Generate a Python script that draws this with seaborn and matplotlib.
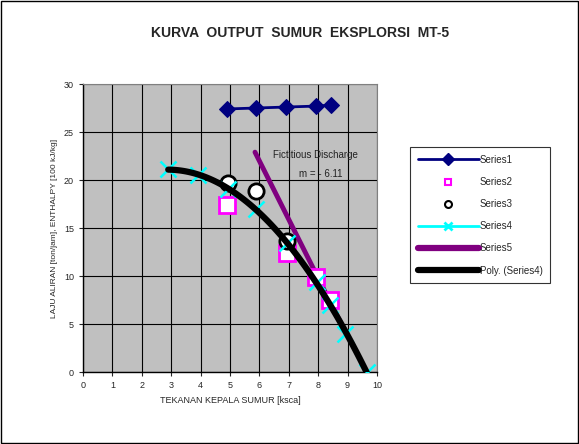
import numpy as np
import pandas as pd
import matplotlib
matplotlib.use("Agg")
import matplotlib.pyplot as plt
from matplotlib.lines import Line2D
import seaborn as sns

# data
s1_x = [4.9, 5.9, 6.9, 7.93, 8.45]
s1_y = [27.4, 27.5, 27.6, 27.7, 27.8]

s2_x = [4.9, 6.93, 7.91, 8.4]
s2_y = [17.4, 12.4, 9.9, 7.5]

s3_x = [4.92, 5.9, 6.93]
s3_y = [19.7, 18.9, 13.6]

s4_x = [2.9, 3.92, 4.94, 5.9, 6.93, 7.95, 8.4, 8.91, 9.67]
s4_y = [21.1, 20.5, 19.1, 17.0, 13.4, 9.4, 7.0, 4.0, 0.0]

s5_x = [5.85, 8.8]
s5_y = [22.9, 4.9]

sns.set_style("white")
plt.rcParams['font.family'] = ['Liberation Sans', 'DejaVu Sans']

fig = plt.figure(figsize=(5.79, 4.44), dpi=100)
ax = fig.add_axes([83 / 579, 1 - 372 / 444, 294 / 579, 288 / 444])
ax.set_facecolor('#C0C0C0')

# polynomial trend (order 2) of Series4
coef = np.polyfit(s4_x, s4_y, 2)
tx = np.linspace(min(s4_x), max(s4_x), 100)
trend = pd.DataFrame({'x': tx, 'y': np.polyval(coef, tx)})

sns.lineplot(x=s1_x, y=s1_y, ax=ax, color='#000080', lw=2, marker='D',
             markersize=8, markeredgecolor='#000080', zorder=3)
sns.lineplot(x=s5_x, y=s5_y, ax=ax, color='#800080', lw=3.5, zorder=3)
ax.plot(s2_x, s2_y, ls='none', marker='s', markersize=11, mfc='white',
        mec='#FF00FF', mew=2, zorder=4)
ax.plot(s3_x, s3_y, ls='none', marker='o', markersize=11, mfc='white',
        mec='black', mew=2, zorder=4)
ax.plot(s4_x, s4_y, ls='none', marker='x', markersize=12, mec='#00FFFF',
        mew=1.8, zorder=5)
sns.lineplot(data=trend, x='x', y='y', ax=ax, color='black', lw=4.5, zorder=6)

ax.text(7.9, 22.3, 'Fictitious Discharge', fontsize=7, ha='center', color='#222222')
ax.text(8.1, 20.3, 'm = - 6.11', fontsize=7, ha='center', color='#222222')

ax.set_xlim(0, 10)
ax.set_ylim(0, 30)
ax.set_xticks(range(0, 11))
ax.set_yticks(range(0, 31, 5))
ax.grid(True, color='black', lw=0.8)
ax.set_axisbelow(True)
ax.tick_params(labelsize=6.5, length=3, direction='out', left=True, bottom=True)
for side in ['top', 'right']:
    ax.spines[side].set_color('#808080')
for side in ['left', 'bottom']:
    ax.spines[side].set_color('black')
    ax.spines[side].set_linewidth(1)

ax.set_xlabel('TEKANAN KEPALA SUMUR [ksca]', fontsize=6.5)
ax.set_ylabel('LAJU ALIRAN [ton/jam], ENTHALPY [100 kJ/kg]', fontsize=6)

fig.suptitle('KURVA  OUTPUT  SUMUR  EKSPLORSI  MT-5', x=300 / 579, y=1 - 26 / 444,
             fontsize=10, fontweight='bold')

handles = [
    Line2D([], [], color='#000080', lw=2, marker='D', markersize=6),
    Line2D([], [], ls='none', marker='s', markersize=5, mfc='white', mec='#FF00FF', mew=1.5),
    Line2D([], [], ls='none', marker='o', markersize=5, mfc='white', mec='black', mew=1.5),
    Line2D([], [], color='#00FFFF', lw=2, marker='x', markersize=6, mew=2),
    Line2D([], [], color='#800080', lw=4.5),
    Line2D([], [], color='black', lw=4.5),
]
labels = ['Series1', 'Series2', 'Series3', 'Series4', 'Series5', 'Poly. (Series4)']
leg = fig.legend(handles, labels, loc='upper left', bbox_to_anchor=(410 / 579, 1 - 147 / 444),
                 fontsize=7, frameon=True, fancybox=False, handlelength=6.3,
                 handletextpad=0.05, labelspacing=1.25, borderpad=0.8, borderaxespad=0)
leg.get_frame().set_edgecolor('black')
leg.get_frame().set_linewidth(0.8)

fig.patches.append(plt.Rectangle((0.002, 0.002), 0.996, 0.996, transform=fig.transFigure,
                                 fill=False, edgecolor='black', lw=1))

fig.savefig('out.png', dpi=100)
